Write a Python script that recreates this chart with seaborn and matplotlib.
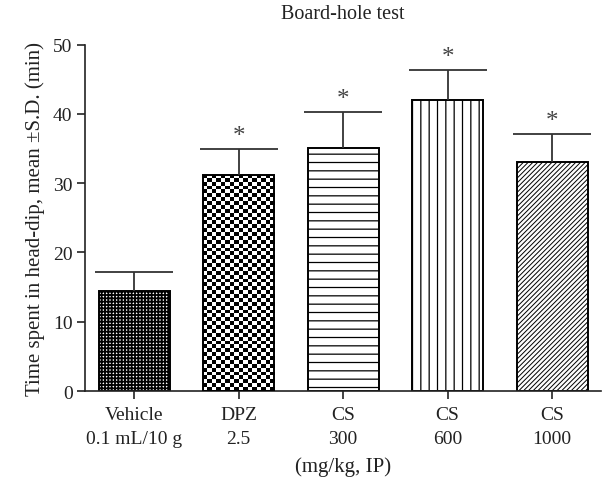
import numpy as np
import pandas as pd
import matplotlib
matplotlib.use('Agg')
import matplotlib.pyplot as plt
import seaborn as sns

# values
groups = ['Vehicle\n0.1 mL/10 g', 'DPZ\n2.5', 'CS\n300', 'CS\n600', 'CS\n1000']
means = [14.5, 31.2, 35.1, 42.0, 33.0]
sds = [2.7, 3.7, 5.2, 4.4, 4.1]
significant = [False, True, True, True, True]
hatches = ['+++++', None, '--', '||', '///////']
hatch_lw = [1.3, None, 0.9, 0.9, 0.7]

df = pd.DataFrame({'group': groups, 'mean': means, 'sd': sds})

sns.set_style('ticks')
plt.rcParams['font.family'] = ['Liberation Serif', 'DejaVu Serif']
plt.rcParams['hatch.linewidth'] = 0.9

fig = plt.figure(figsize=(6.03, 4.81), dpi=100)
ax = fig.add_axes([0.141, 0.185, 0.856, 0.72])

sns.barplot(data=df, x='group', y='mean', order=groups, color='white',
            edgecolor='black', linewidth=1.4, width=0.68, saturation=1, ax=ax)

bars = list(ax.patches)
for bar, h, lw in zip(bars, hatches, hatch_lw):
    if h:
        bar.set_hatch(h)
        if hasattr(bar, 'set_hatch_linewidth'):
            bar.set_hatch_linewidth(lw)

# coarse checkerboard for the DPZ bar (clipped image behind an empty bar)
dpz = bars[1]
dpz.set_facecolor('none')
dpz.set_zorder(3)
fig.canvas.draw()
bb = dpz.get_window_extent()
nx = max(int(round(bb.width / 4.4)), 2)
ny = max(int(round(bb.height / 4.4)), 2)
checker = (np.indices((ny, nx)).sum(axis=0) % 2).astype(float)
x0, y0 = dpz.get_x(), dpz.get_y()
img = ax.imshow(checker, cmap='gray', interpolation='nearest', aspect='auto',
                extent=[x0, x0 + dpz.get_width(), y0, y0 + dpz.get_height()],
                zorder=2)
img.set_clip_path(dpz)

xpos = np.arange(len(groups))
_, caps, _ = ax.errorbar(xpos, df['mean'], yerr=[np.zeros(len(groups)), df['sd']],
                         fmt='none', ecolor='#333333', elinewidth=1.3, capsize=28,
                         capthick=1.3, zorder=4)
# one-sided bars: hide the cap sitting on the bar top
caps[0].set_visible(False)

for x, m, s, sig in zip(xpos, means, sds, significant):
    if sig:
        ax.text(x, m + s + 0.3, '*', ha='center', va='bottom', fontsize=18,
                color='#444444')

ax.set_xlim(-0.47, 4.47)
ax.set_ylim(0, 50)
ax.set_yticks([0, 10, 20, 30, 40, 50])
sns.despine(ax=ax)
for sp in ['left', 'bottom']:
    ax.spines[sp].set_linewidth(1.2)
    ax.spines[sp].set_color('#222222')
ax.tick_params(axis='y', length=5.5, width=1.2, labelsize=14, colors='#222222')
ax.tick_params(axis='x', length=6, width=1.2, labelsize=14, colors='#222222',
               pad=5)
ax.set_xticks(xpos)
ax.set_xticklabels(groups, linespacing=1.5)

ax.set_xlabel('(mg/kg, IP)', fontsize=15, color='#222222', labelpad=7)
ax.set_ylabel('Time spent in head-dip, mean \u00b1S.D. (min)', fontsize=15,
              color='#222222', labelpad=6)
ax.set_title('Board-hole test', fontsize=14.5, color='#222222', pad=19)

fig.savefig('out.png', dpi=100)
